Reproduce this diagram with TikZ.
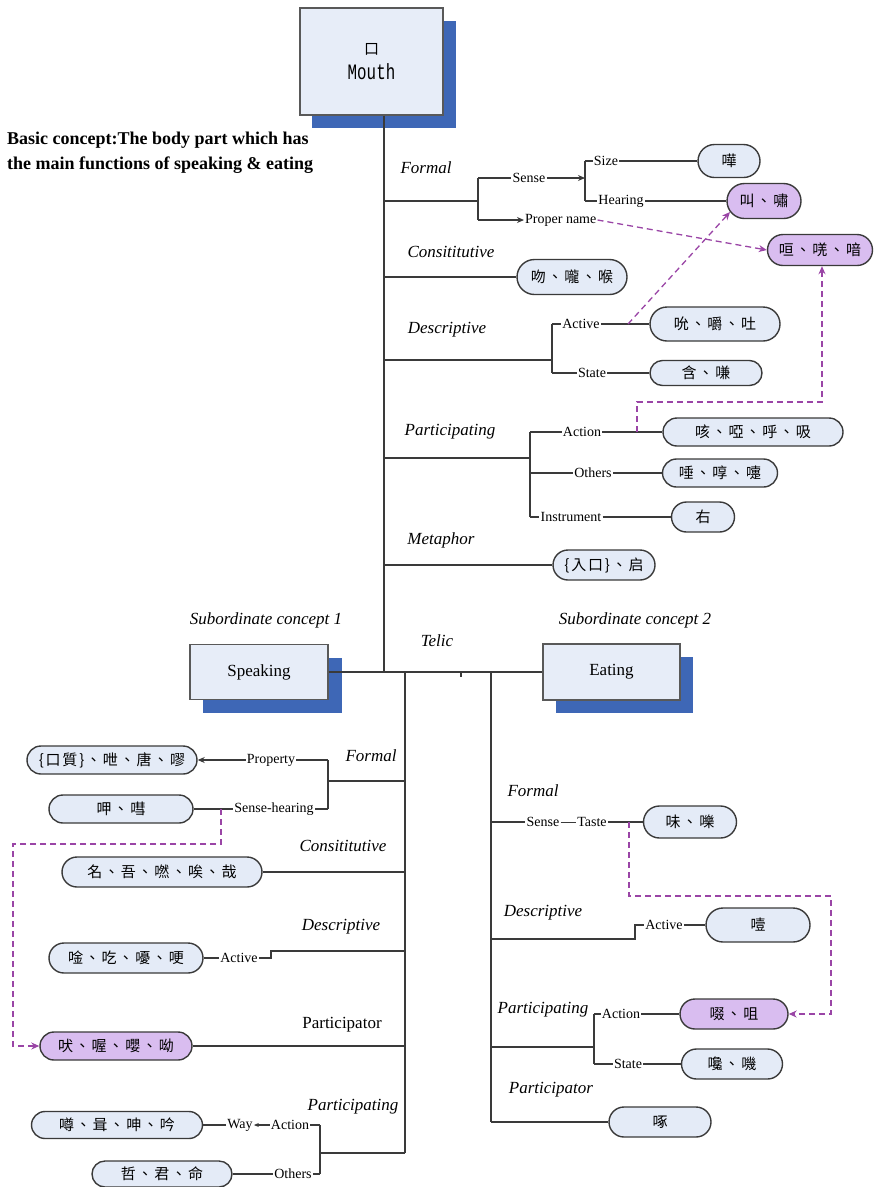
\documentclass[tikz,border=0pt]{standalone}
\usepackage{fontspec}
\setmainfont{Liberation Serif}
\newfontfamily\cjkfont[LetterSpace=12]{Noto Sans CJK TC}
\newfontfamily\monofam{Liberation Mono}
\usetikzlibrary{arrows.meta,shapes.misc,calc}

\definecolor{pillblue}{HTML}{E4EBF7}
\definecolor{pillpurple}{HTML}{D9BDF0}
\definecolor{dashpurple}{HTML}{9A45A6}
\definecolor{shadowblue}{HTML}{3E67B6}
\definecolor{boxfill}{HTML}{E7EDF8}
\definecolor{ink}{HTML}{3A3A3A}

\newcommand\catsize{\fontsize{17pt}{20pt}\selectfont}
\newcommand\labsize{\fontsize{14pt}{16pt}\selectfont}
\newcommand\cjksize{\fontsize{15pt}{17pt}\selectfont}

\tikzset{
  tree/.style={draw=ink, line width=1.1pt},
  tip/.style={-{Stealth[length=7pt,width=6pt]}},
  pill/.style={draw=ink, line width=1.4pt, fill=pillblue, rounded rectangle,
    inner sep=0pt, font=\cjkfont\cjksize},
  hot/.style={pill, fill=pillpurple},
  cat/.style={font=\catsize\itshape, inner sep=0pt},
  uprightcat/.style={font=\catsize, inner sep=0pt},
  lab/.style={font=\labsize, inner sep=1pt},
  link/.style={draw=dashpurple, line width=1.3pt, dash pattern=on 6pt off 4pt,
    -{Stealth[length=8pt,width=7pt]}},
  card/.style={draw=black!65, line width=1.2pt, fill=boxfill, inner sep=0pt},
  cardshadow/.style={fill=shadowblue, draw=none, inner sep=0pt},
}

\begin{document}
\begin{tikzpicture}[x=1pt,y=-1pt]
\useasboundingbox (0,0) rectangle (874,1187);

% ---------- head concept ----------
\node[cardshadow, minimum width=144pt, minimum height=107pt] (mouthsh) at (384,74.5) {};
\node[card, minimum width=143pt, minimum height=107pt, align=center] (mouth) at (371.5,61.5)
  {{\cjkfont\fontsize{15pt}{18pt}\selectfont 口}\\[7pt]{\monofam\fontsize{22pt}{24pt}\selectfont\scalebox{0.72}[1]{Mouth}}};

\node[anchor=north west, align=left, inner sep=0pt,
  font=\bfseries\fontsize{18pt}{25pt}\selectfont] (basic) at (7,132)
  {Basic concept:The body part which has\\the main functions of speaking \& eating};

\coordinate (tk) at (384,672);
\draw[tree] (mouth.south -| tk) -- (tk);

% ---------- Formal ----------
\node[cat] (mFormalL) at (426,168) {Formal};
\coordinate (mF) at (384,201);
\coordinate (mFs) at (478,201);
\coordinate (mFa) at (478,178);
\coordinate (mFb) at (478,220);
\coordinate (mFv0) at (585,178);
\coordinate (mFv1) at (585,161);
\coordinate (mFv2) at (585,201);
\node[lab] (mSense) at (529,178) {Sense};
\node[lab] (mSize) at (606,161) {Size};
\node[lab] (mHearing) at (621,201) {Hearing};
\node[lab, anchor=west] (mProper) at (524,220) {Proper name};
\node[pill, minimum width=62pt, minimum height=33pt] (nSize) at (729,161) {嘩};
\node[hot, minimum width=74pt, minimum height=35pt] (nHear) at (764,201) {叫、嘯};
\node[hot, minimum width=105pt, minimum height=31pt] (nCry) at (820,250) {咺、唴、喑};
\draw[tree] (mF) -- (mFs);
\draw[tree] (mFa) -- (mFb);
\draw[tree] (mFa) -- (mSense.west);
\draw[tree, tip] (mSense.east) -- (mFv0);
\draw[tree] (mFv1) -- (mFv2);
\draw[tree] (mFv1) -- (mSize.west);
\draw[tree] (mSize.east) -- (nSize.west);
\draw[tree] (mFv2) -- (mHearing.west);
\draw[tree] (mHearing.east) -- (nHear.west);
\draw[tree, tip] (mFb) -- (mProper.west);
\draw[link] (mProper.east) -- (nCry.west);

% ---------- Constitutive ----------
\node[cat] (mConsL) at (451,252) {Consititutive};
\coordinate (mC) at (384,277);
\node[pill, minimum width=110pt, minimum height=35pt] (nCons) at (572,277) {吻、嚨、喉};
\draw[tree] (mC) -- (nCons.west);

% ---------- Descriptive ----------
\node[cat] (mDescL) at (447,330) {Descriptive};
\coordinate (mD) at (384,360);
\coordinate (mDs) at (552,360);
\coordinate (mDa) at (552,324);
\coordinate (mDb) at (552,373);
\node[lab] (mActive) at (581,324) {Active};
\node[lab] (mState) at (592,373) {State};
\node[pill, minimum width=130pt, minimum height=34pt] (nSuck) at (715,324) {吮、嚼、吐};
\node[pill, minimum width=112pt, minimum height=25pt] (nHold) at (706,373) {含、嗛};
\draw[tree] (mD) -- (mDs);
\draw[tree] (mDa) -- (mDb);
\draw[tree] (mDa) -- (mActive.west);
\draw[tree] (mActive.east) -- (nSuck.west);
\draw[tree] (mDb) -- (mState.west);
\draw[tree] (mState.east) -- (nHold.west);
\coordinate (mDlink) at (628,324);
\draw[link] (mDlink) -- (nHear.198);

% ---------- Participating ----------
\node[cat] (mPartL) at (450,432) {Participating};
\coordinate (mP) at (384,458);
\coordinate (mPs) at (530,458);
\coordinate (mPa) at (530,432);
\coordinate (mPb) at (530,473);
\coordinate (mPc) at (530,517);
\node[lab] (mAction) at (582,432) {Action};
\node[lab] (mOthers) at (593,473) {Others};
\node[lab] (mInstr) at (571,517) {Instrument};
\node[pill, minimum width=180pt, minimum height=28pt] (nBreath) at (753,432) {咳、啞、呼、吸};
\node[pill, minimum width=115pt, minimum height=28pt] (nOthers) at (720,473) {唾、啍、嚏};
\node[pill, minimum width=63pt, minimum height=30pt] (nRight) at (703,517) {右};
\draw[tree] (mP) -- (mPs);
\draw[tree] (mPa) -- (mPc);
\draw[tree] (mPa) -- (mAction.west);
\draw[tree] (mAction.east) -- (nBreath.west);
\draw[tree] (mPb) -- (mOthers.west);
\draw[tree] (mOthers.east) -- (nOthers.west);
\draw[tree] (mPc) -- (mInstr.west);
\draw[tree] (mInstr.east) -- (nRight.west);
\coordinate (mPlink) at (637,432);
\coordinate (mPturn) at (822,402);
\draw[link] (mPlink) |- (mPturn) -- (mPturn |- nCry.south);

% ---------- Metaphor ----------
\node[cat] (mMetaL) at (441,540) {Metaphor};
\coordinate (mM) at (384,565);
\node[pill, minimum width=102pt, minimum height=30pt] (nMeta) at (604,565) {\{入口\}、启};
\draw[tree] (mM) -- (nMeta.west);

% ---------- Telic: the two subordinate concepts ----------
\node[cat] (telic) at (437,641) {Telic};
\node[cat] (sub1) at (266,620) {Subordinate concept 1};
\node[cat] (sub2) at (635,620) {Subordinate concept 2};

\node[cardshadow, minimum width=139pt, minimum height=55pt] (speaksh) at (272.5,685.5) {};
\node[card, minimum width=138pt, minimum height=55pt, font=\fontsize{17pt}{20pt}\selectfont] (speak) at (259,672) {Speaking};
\node[cardshadow, minimum width=137pt, minimum height=56pt] (eatsh) at (624.5,685) {};
\node[card, minimum width=137pt, minimum height=56pt, font=\fontsize{17pt}{20pt}\selectfont] (eat) at (611.5,672) {Eating};
\draw[tree] (speak.east) -- (eat.west);
\coordinate (tickA) at (461,672);
\coordinate (tickB) at (461,677);
\draw[tree] (tickA) -- (tickB);

\coordinate (sT) at (405,672);
\coordinate (sB) at (405,1153);
\coordinate (eT) at (491,672);
\coordinate (eB) at (491,1122);
\draw[tree] (sT) -- (sB);
\draw[tree] (eT) -- (eB);

% ---------- Speaking: Formal ----------
\node[cat] (sFormalL) at (371,756) {Formal};
\coordinate (sF) at (405,781);
\coordinate (sFs) at (328,781);
\coordinate (sFa) at (328,760);
\coordinate (sFb) at (328,809);
\node[lab] (sProp) at (271,760) {Property};
\node[lab] (sSH) at (274,809) {Sense-hearing};
\node[pill, minimum width=170pt, minimum height=28pt] (nProp) at (112,760) {\{口質\}、呭、唐、嘐};
\node[pill, minimum width=144pt, minimum height=28pt] (nHear2) at (121,809) {呷、嘒};
\draw[tree] (sF) -- (sFs);
\draw[tree] (sFa) -- (sFb);
\draw[tree] (sFa) -- (sProp.east);
\draw[tree, tip] (sProp.west) -- (nProp.east);
\draw[tree] (sFb) -- (sSH.east);
\draw[tree] (sSH.west) -- (nHear2.east);

% ---------- Speaking: Constitutive ----------
\node[cat] (sConsL) at (343,846) {Consititutive};
\node[pill, minimum width=200pt, minimum height=30pt] (nName) at (162,872) {名、吾、嘫、唉、哉};
\draw[tree] (nName.east) -- (nName.east -| sT);

% ---------- Speaking: Descriptive ----------
\node[cat] (sDescL) at (341,927) {Descriptive};
\coordinate (sD) at (405,951);
\coordinate (sDa) at (271,951);
\coordinate (sDb) at (271,958);
\node[lab] (sAct) at (239,958) {Active};
\node[pill, minimum width=154pt, minimum height=30pt] (nStut) at (126,958) {唫、吃、嚘、哽};
\draw[tree] (sD) -- (sDa) -- (sDb) -- (sAct.east);
\draw[tree] (sAct.west) -- (nStut.east);

% ---------- Speaking: Participator ----------
\node[uprightcat] (sPartorL) at (342,1025) {Participator};
\node[hot, minimum width=152pt, minimum height=28pt] (nAnimal) at (116,1046) {吠、喔、嚶、呦};
\draw[tree] (nAnimal.east) -- (nAnimal.east -| sT);

\coordinate (sLink) at (221,809);
\coordinate (sTurnA) at (221,844);
\coordinate (sTurnB) at (13,844);
\coordinate (sTurnC) at (13,1046);
\draw[link] (sLink) -- (sTurnA) -- (sTurnB) -- (sTurnC) -- (nAnimal.west);

% ---------- Speaking: Participating ----------
\node[cat] (sPartL) at (353,1107) {Participating};
\coordinate (sPs) at (320,1153);
\coordinate (sPa) at (320,1125);
\coordinate (sPb) at (320,1174);
\node[lab] (sAction) at (290,1125) {Action};
\node[lab] (sWay) at (240,1125) {Way};
\node[lab] (sOthers) at (293,1174) {Others};
\node[pill, minimum width=171pt, minimum height=27pt] (nChant) at (117,1125) {噂、咠、呻、吟};
\node[pill, minimum width=140pt, minimum height=26pt] (nLord) at (162,1174) {哲、君、命};
\draw[tree] (sB) -- (sPs);
\draw[tree] (sPa) -- (sPb);
\draw[tree] (sPa) -- (sAction.east);
\draw[tree, -{Stealth[length=5pt,width=4pt]}] (sAction.west) -- (sWay.east);
\draw[tree] (sWay.west) -- (nChant.east);
\draw[tree] (sPb) -- (sOthers.east);
\draw[tree] (sOthers.west) -- (nLord.east);

% ---------- Eating: Formal ----------
\node[cat] (eFormalL) at (533,791) {Formal};
\coordinate (eF) at (491,822);
\node[lab] (eSense) at (543,822) {Sense};
\node[lab] (eTaste) at (592,822) {Taste};
\node[pill, minimum width=93pt, minimum height=32pt] (nTaste) at (690,822) {味、嚛};
\draw[tree] (eF) -- (eSense.west);
\draw[draw=ink, line width=0.6pt] (eSense.east) -- (eTaste.west);
\draw[tree] (eTaste.east) -- (nTaste.west);

% ---------- Eating: Descriptive ----------
\node[cat] (eDescL) at (543,913) {Descriptive};
\coordinate (eD) at (491,939);
\coordinate (eDa) at (635,939);
\coordinate (eDb) at (635,925);
\node[lab] (eAct) at (664,925) {Active};
\node[pill, minimum width=104pt, minimum height=34pt] (nEat) at (758,925) {噎};
\draw[tree] (eD) -- (eDa) -- (eDb) -- (eAct.west);
\draw[tree] (eAct.east) -- (nEat.west);

% ---------- Eating: Participating ----------
\node[cat] (ePartL) at (543,1010) {Participating};
\coordinate (eP) at (491,1047);
\coordinate (ePs) at (594,1047);
\coordinate (ePa) at (594,1014);
\coordinate (ePb) at (594,1064);
\node[lab] (eAction) at (621,1014) {Action};
\node[lab] (eState) at (628,1064) {State};
\node[hot, minimum width=108pt, minimum height=30pt] (nSip) at (734,1014) {啜、咀};
\node[pill, minimum width=101pt, minimum height=30pt] (nNib) at (732,1064) {嚵、嘰};
\draw[tree] (eP) -- (ePs);
\draw[tree] (ePa) -- (ePb);
\draw[tree] (ePa) -- (eAction.west);
\draw[tree] (eAction.east) -- (nSip.west);
\draw[tree] (ePb) -- (eState.west);
\draw[tree] (eState.east) -- (nNib.west);

\coordinate (eLink) at (629,822);
\coordinate (eTurnA) at (629,896);
\coordinate (eTurnB) at (831,896);
\coordinate (eTurnC) at (831,1014);
\draw[link] (eLink) -- (eTurnA) -- (eTurnB) -- (eTurnC) -- (nSip.east);

% ---------- Eating: Participator ----------
\node[cat] (ePartorL) at (551,1090) {Participator};
\node[pill, minimum width=102pt, minimum height=30pt] (nPeck) at (660,1122) {啄};
\draw[tree] (eB) -- (nPeck.west);

\end{tikzpicture}
\end{document}
